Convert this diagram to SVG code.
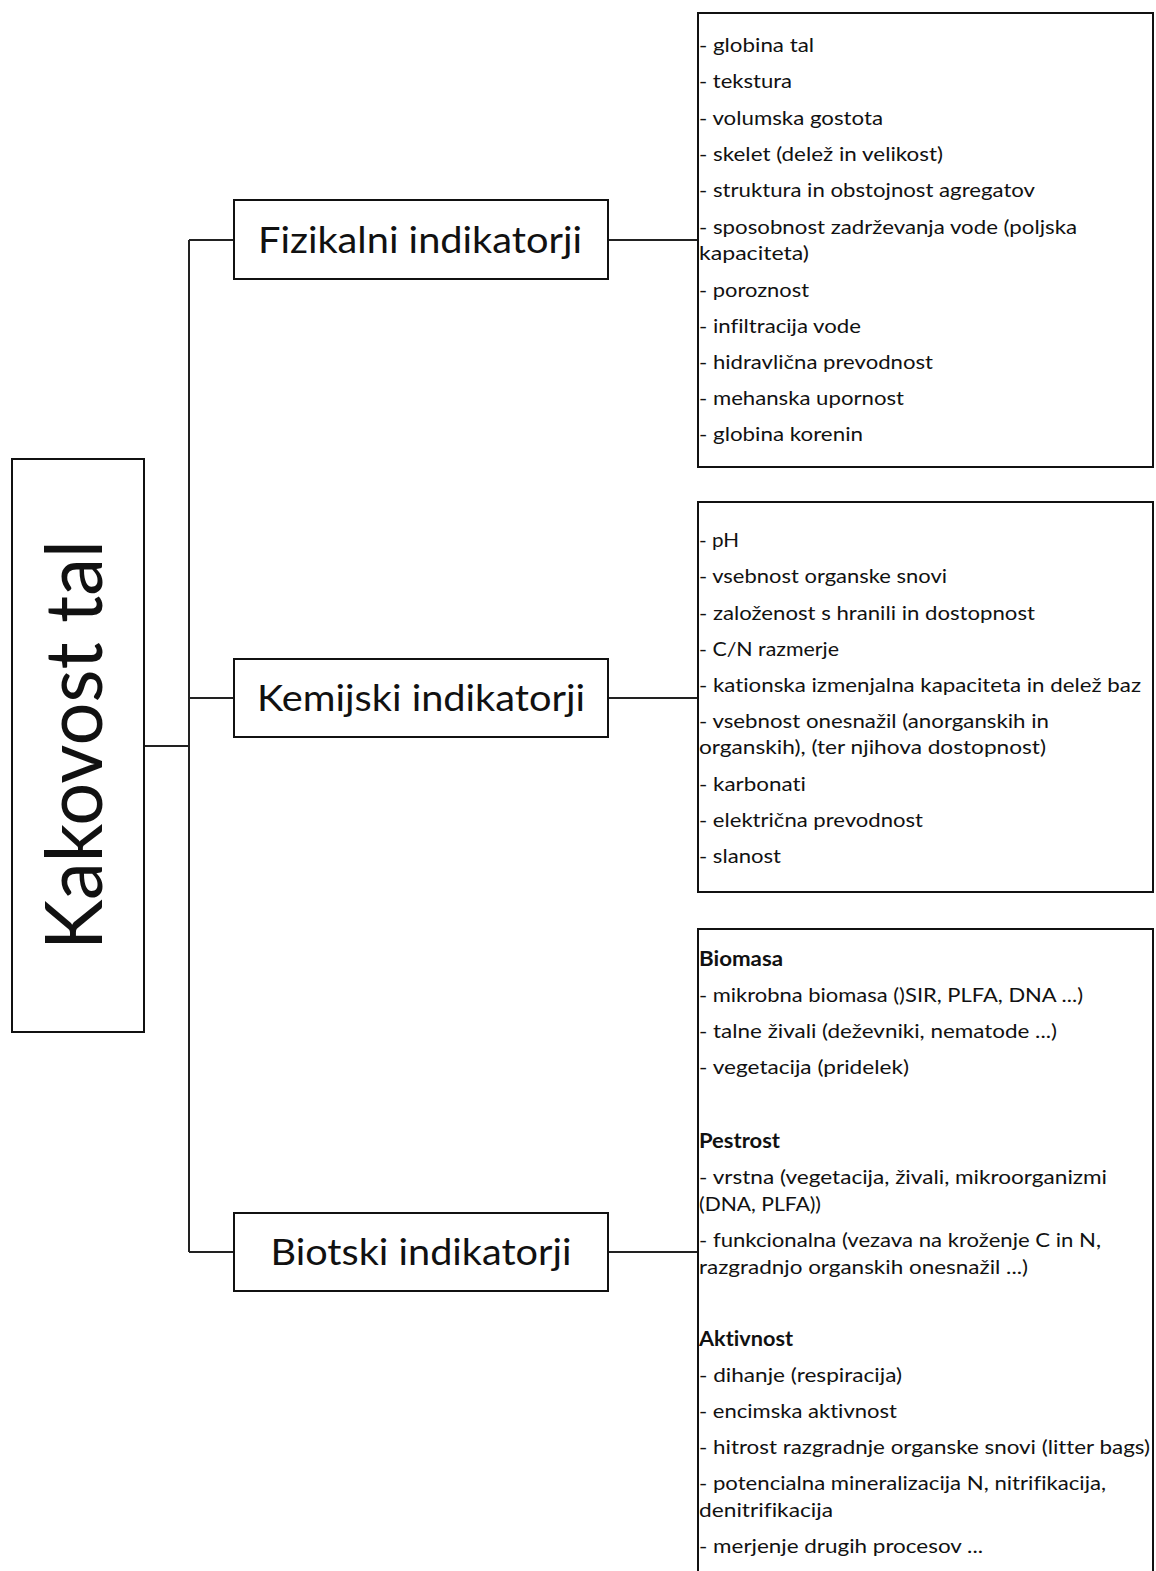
<svg xmlns="http://www.w3.org/2000/svg" width="1156" height="1571" viewBox="0 0 1156 1571">
<style>
.box{fill:#fff;stroke:#111;stroke-width:2}
.ln{fill:none;stroke:#222;stroke-width:2}
.t{font-family:Lato,"Liberation Sans",sans-serif;fill:#111;font-variant-ligatures:none}
.li{font-size:20px}
.b{font-weight:bold}
.mid{font-size:37px;text-anchor:middle}
</style>
<rect width="1156" height="1571" fill="#fff"/>
<g id="connectors">
<polyline class="ln" points="189,240 189,1252"/>
<line class="ln" x1="144" y1="746" x2="189" y2="746"/>
<line class="ln" x1="189" y1="240" x2="234" y2="240"/>
<line class="ln" x1="189" y1="698" x2="234" y2="698"/>
<line class="ln" x1="189" y1="1252" x2="234" y2="1252"/>
<line class="ln" x1="608" y1="240" x2="698" y2="240"/>
<line class="ln" x1="608" y1="698" x2="698" y2="698"/>
<line class="ln" x1="608" y1="1252" x2="698" y2="1252"/>
</g>
<g id="root">
<rect class="box" x="12" y="459" width="132" height="573"/>
<text class="t" transform="translate(102,745) rotate(-90)" text-anchor="middle" font-size="80" textLength="410" lengthAdjust="spacingAndGlyphs">Kakovost tal</text>
</g>
<g id="fizikalni">
<rect class="box" x="234" y="200" width="374" height="79"/>
<text class="t mid" x="420" y="253" textLength="324" lengthAdjust="spacingAndGlyphs">Fizikalni indikatorji</text>
</g>
<g id="kemijski">
<rect class="box" x="234" y="659" width="374" height="78"/>
<text class="t mid" x="421" y="711" textLength="328" lengthAdjust="spacingAndGlyphs">Kemijski indikatorji</text>
</g>
<g id="biotski">
<rect class="box" x="234" y="1213" width="374" height="78"/>
<text class="t mid" x="421" y="1265" textLength="301" lengthAdjust="spacingAndGlyphs">Biotski indikatorji</text>
</g>
<g id="fizikalni-list">
<rect class="box" x="698" y="13" width="455" height="454"/>
<g class="t li">
<text x="699" y="52" textLength="115" lengthAdjust="spacingAndGlyphs">- globina tal</text>
<text x="699" y="88" textLength="93" lengthAdjust="spacingAndGlyphs">- tekstura</text>
<text x="699" y="125" textLength="184" lengthAdjust="spacingAndGlyphs">- volumska gostota</text>
<text x="699" y="161" textLength="244" lengthAdjust="spacingAndGlyphs">- skelet (delež in velikost)</text>
<text x="699" y="197" textLength="336" lengthAdjust="spacingAndGlyphs">- struktura in obstojnost agregatov</text>
<text x="699" y="234" textLength="378" lengthAdjust="spacingAndGlyphs">- sposobnost zadrževanja vode (poljska</text>
<text x="699" y="260" textLength="110" lengthAdjust="spacingAndGlyphs">kapaciteta)</text>
<text x="699" y="297" textLength="110" lengthAdjust="spacingAndGlyphs">- poroznost</text>
<text x="699" y="333" textLength="162" lengthAdjust="spacingAndGlyphs">- infiltracija vode</text>
<text x="699" y="369" textLength="234" lengthAdjust="spacingAndGlyphs">- hidravlična prevodnost</text>
<text x="699" y="405" textLength="205" lengthAdjust="spacingAndGlyphs">- mehanska upornost</text>
<text x="699" y="441" textLength="164" lengthAdjust="spacingAndGlyphs">- globina korenin</text>
</g>
</g>
<g id="kemijski-list">
<rect class="box" x="698" y="502" width="455" height="390"/>
<g class="t li">
<text x="699" y="547" textLength="40" lengthAdjust="spacingAndGlyphs">- pH</text>
<text x="699" y="583" textLength="248" lengthAdjust="spacingAndGlyphs">- vsebnost organske snovi</text>
<text x="699" y="620" textLength="336" lengthAdjust="spacingAndGlyphs">- založenost s hranili in dostopnost</text>
<text x="699" y="656" textLength="140" lengthAdjust="spacingAndGlyphs">- C/N razmerje</text>
<text x="699" y="692" textLength="442" lengthAdjust="spacingAndGlyphs">- kationska izmenjalna kapaciteta in delež baz</text>
<text x="699" y="728" textLength="350" lengthAdjust="spacingAndGlyphs">- vsebnost onesnažil (anorganskih in</text>
<text x="699" y="754" textLength="347" lengthAdjust="spacingAndGlyphs">organskih), (ter njihova dostopnost)</text>
<text x="699" y="791" textLength="107" lengthAdjust="spacingAndGlyphs">- karbonati</text>
<text x="699" y="827" textLength="224" lengthAdjust="spacingAndGlyphs">- električna prevodnost</text>
<text x="699" y="863" textLength="82" lengthAdjust="spacingAndGlyphs">- slanost</text>
</g>
</g>
<g id="biotski-list">
<rect class="box" x="698" y="929" width="455" height="660"/>
<g class="t li">
<text class="b" x="699" y="966" textLength="84" lengthAdjust="spacingAndGlyphs">Biomasa</text>
<text x="699" y="1002" textLength="384" lengthAdjust="spacingAndGlyphs">- mikrobna biomasa ()SIR, PLFA, DNA ...)</text>
<text x="699" y="1038" textLength="358" lengthAdjust="spacingAndGlyphs">- talne živali (deževniki, nematode ...)</text>
<text x="699" y="1074" textLength="210" lengthAdjust="spacingAndGlyphs">- vegetacija (pridelek)</text>
<text class="b" x="699" y="1148" textLength="81" lengthAdjust="spacingAndGlyphs">Pestrost</text>
<text x="699" y="1184" textLength="408" lengthAdjust="spacingAndGlyphs">- vrstna (vegetacija, živali, mikroorganizmi</text>
<text x="699" y="1211" textLength="122" lengthAdjust="spacingAndGlyphs">(DNA, PLFA))</text>
<text x="699" y="1247" textLength="402" lengthAdjust="spacingAndGlyphs">- funkcionalna (vezava na kroženje C in N,</text>
<text x="699" y="1274" textLength="329" lengthAdjust="spacingAndGlyphs">razgradnjo organskih onesnažil ...)</text>
<text class="b" x="699" y="1346" textLength="94" lengthAdjust="spacingAndGlyphs">Aktivnost</text>
<text x="699" y="1382" textLength="203" lengthAdjust="spacingAndGlyphs">- dihanje (respiracija)</text>
<text x="699" y="1418" textLength="198" lengthAdjust="spacingAndGlyphs">- encimska aktivnost</text>
<text x="699" y="1454" textLength="451" lengthAdjust="spacingAndGlyphs">- hitrost razgradnje organske snovi (litter bags)</text>
<text x="699" y="1490" textLength="407" lengthAdjust="spacingAndGlyphs">- potencialna mineralizacija N, nitrifikacija,</text>
<text x="699" y="1517" textLength="134" lengthAdjust="spacingAndGlyphs">denitrifikacija</text>
<text x="699" y="1553" textLength="284" lengthAdjust="spacingAndGlyphs">- merjenje drugih procesov ...</text>
</g>
</g>
</svg>
